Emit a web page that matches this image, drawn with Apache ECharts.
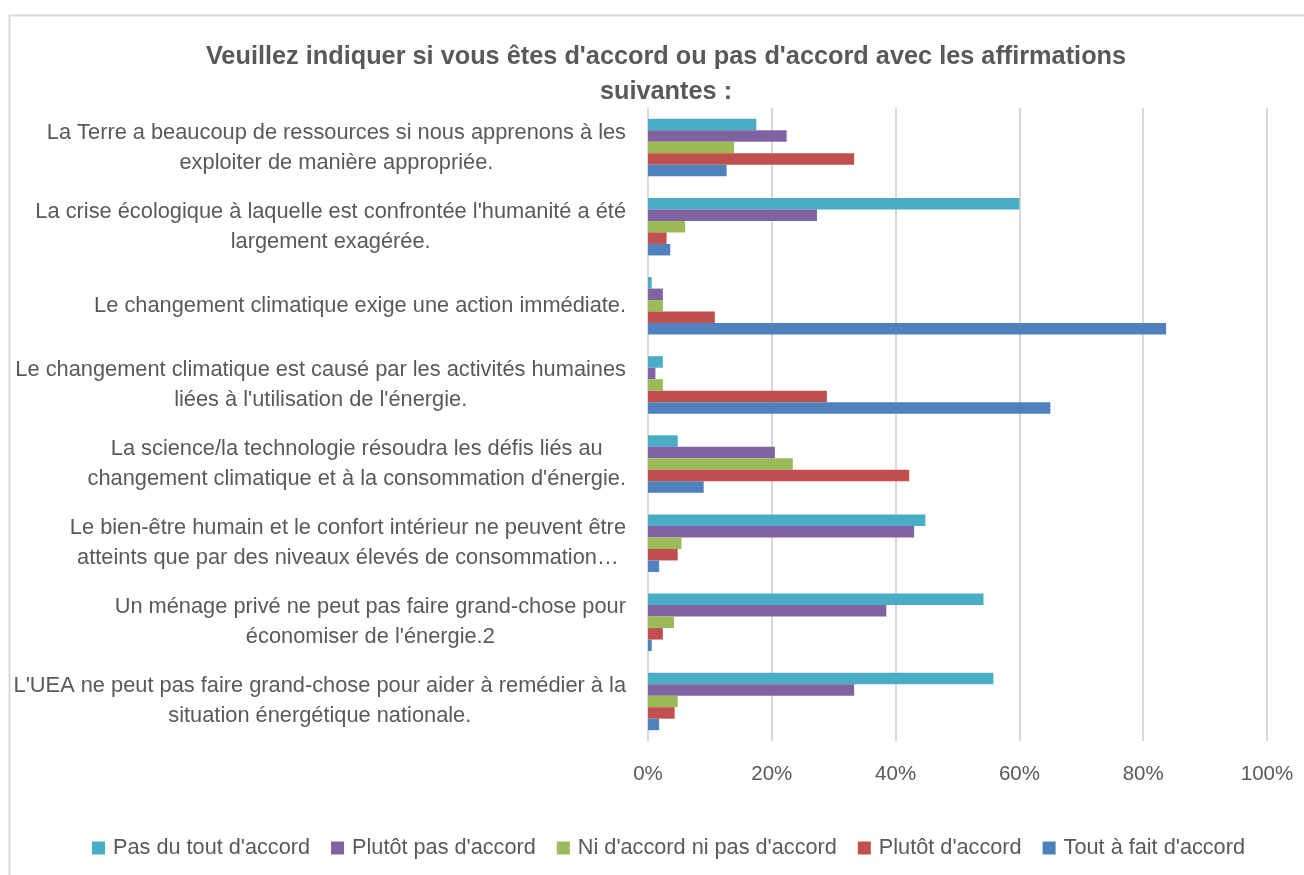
<!DOCTYPE html>
<html>
<head>
<meta charset="utf-8">
<script src="https://cdn.jsdelivr.net/npm/echarts@6/dist/echarts.min.js"></script>
<style>
  html, body { margin: 0; padding: 0; background: #fff; }
  #chart { width: 1304px; height: 875px; }
</style>
</head>
<body>
<div id="chart"></div>
<script>
var titleText = "Veuillez indiquer si vous êtes d'accord ou pas d'accord avec les affirmations\nsuivantes :";

var categories = [
  "La Terre a beaucoup de ressources si nous apprenons à les\nexploiter de manière appropriée.",
  "La crise écologique à laquelle est confrontée l'humanité a été\nlargement exagérée.",
  "Le changement climatique exige une action immédiate.",
  "Le changement climatique est causé par les activités humaines\nliées à l'utilisation de l'énergie.",
  "La science/la technologie résoudra les défis liés au\nchangement climatique et à la consommation d'énergie.",
  "Le bien-être humain et le confort intérieur ne peuvent être\natteints que par des niveaux élevés de consommation…",
  "Un ménage privé ne peut pas faire grand-chose pour\néconomiser de l'énergie.2",
  "L'UEA ne peut pas faire grand-chose pour aider à remédier à la\nsituation énergétique nationale."
];

var seriesNames = ["Pas du tout d'accord", "Plutôt pas d'accord", "Ni d'accord ni pas d'accord", "Plutôt d'accord", "Tout à fait d'accord"];
var seriesColors = ["#4BACC6", "#8064A2", "#9BBB59", "#C0504D", "#4F81BD"];

// valeurs en %
var pasDuTout   = [17.5, 60.0, 0.6, 2.4, 4.8, 44.8, 54.2, 55.8];
var plutotPas   = [22.4, 27.3, 2.4, 1.2, 20.5, 43.0, 38.5, 33.3];
var ni          = [13.9, 6.0, 2.4, 2.4, 23.4, 5.4, 4.2, 4.8];
var plutot      = [33.3, 3.0, 10.8, 28.9, 42.2, 4.8, 2.4, 4.3];
var toutAFait   = [12.7, 3.6, 83.7, 65.0, 9.0, 1.8, 0.6, 1.8];

var xTicks = [0, 20, 40, 60, 80, 100];

var allValues = [pasDuTout, plutotPas, ni, plutot, toutAFait];
var font = "Liberation Sans";
var grey = "#595959";

var series = [];
for (var i = 0; i < seriesNames.length; i++) {
  series.push({
    name: seriesNames[i],
    type: 'bar',
    data: allValues[i],
    barWidth: 11.5,
    barGap: '0%',
    itemStyle: { color: seriesColors[i] }
  });
}

var myChart = echarts.init(document.getElementById('chart'));
myChart.setOption({
  animation: false,
  backgroundColor: '#fff',
  graphic: [{
    type: 'rect',
    shape: { x: 9.5, y: 15.5, width: 1310, height: 880 },
    style: { fill: 'none', stroke: '#d9d9d9', lineWidth: 2 }
  }],
  title: {
    text: titleText,
    left: 661,
    top: 35,
    textAlign: 'center',
    textStyle: { fontFamily: font, fontSize: 25.3, fontWeight: 'bold', color: grey, lineHeight: 35 }
  },
  legend: {
    data: seriesNames,
    left: 87,
    top: 832,
    itemWidth: 13,
    itemHeight: 13,
    itemGap: 21,
    icon: 'rect',
    textStyle: { fontFamily: font, fontSize: 21.7, color: grey, padding: [0, 0, 0, 3] }
  },
  grid: { left: 648, right: 37, top: 108, bottom: 134, containLabel: false },
  xAxis: {
    type: 'value',
    min: xTicks[0],
    max: xTicks[xTicks.length - 1],
    interval: 20,
    axisLine: { show: false },
    axisTick: { show: false },
    splitLine: { lineStyle: { color: '#d9d9d9', width: 2 } },
    axisLabel: {
      formatter: '{value}%',
      margin: 23,
      fontFamily: font, fontSize: 20.5, color: grey
    }
  },
  yAxis: {
    type: 'category',
    inverse: true,
    data: categories,
    axisLine: { show: false },
    axisTick: { show: false },
    axisLabel: {
      margin: 22,
      align: 'right',
      formatter: function (v) {
        return v.split('\n').map(function (s) { return '{c|' + s + '}'; }).join('\n');
      },
      rich: {
        c: { align: 'center', fontFamily: font, fontSize: 21.8, color: grey, lineHeight: 30 }
      }
    }
  },
  series: series
});
</script>
</body>
</html>
